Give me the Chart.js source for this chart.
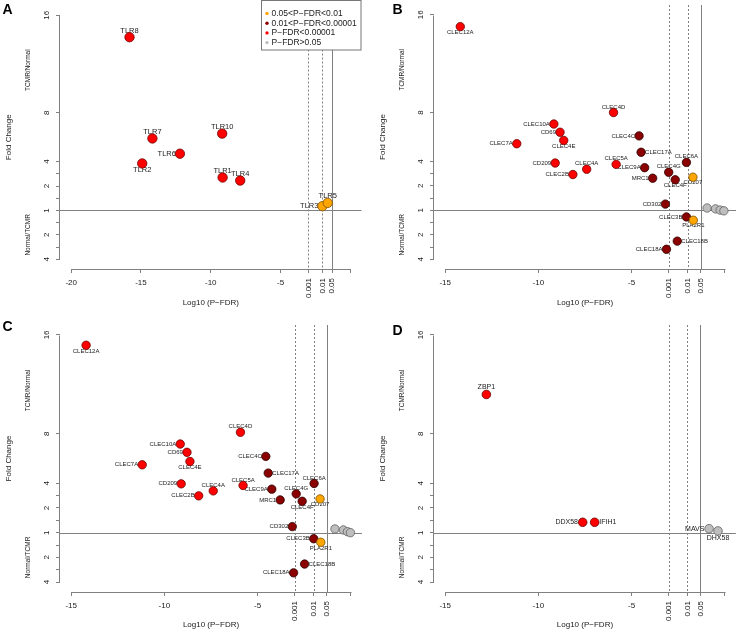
<!DOCTYPE html>
<html>
<head>
<meta charset="utf-8">
<script src="https://cdn.jsdelivr.net/npm/chart.js@4.4.1/dist/chart.umd.min.js"></script>
<style>
  body { margin: 0; background: #fff; overflow: hidden; width: 741px; height: 633px; position: relative; }
  canvas { position: absolute; }
</style>
</head>
<body>
<canvas id="panelA" width="367" height="316" style="left:0px;top:0px"></canvas>
<canvas id="panelB" width="367" height="316" style="left:374px;top:0px"></canvas>
<canvas id="panelC" width="367" height="317" style="left:0px;top:316px"></canvas>
<canvas id="panelD" width="367" height="317" style="left:374px;top:316px"></canvas>
<script>
// significance groups (legend order)
const legendLabels = ['0.05<P\u2212FDR<0.01', '0.01<P\u2212FDR<0.00001', 'P\u2212FDR<0.00001', 'P\u2212FDR>0.05'];
const groupColors = ['#FFA500', '#8B0000', '#FF0000', '#BEBEBE'];

// fold change axis: 0 is "1", positive side TCMR/Normal, negative side Normal/TCMR
const yTickValues = [16, 8, 4, 3, 2, 1, 0, -1, -2, -3, -4];
const yTickLabels = ['16', '8', '4', '', '2', '', '1', '', '2', '', '4'];

const pCutValues = [0.001, 0.01, 0.05];
const pCutLabels = ['0.001', '0.01', '0.05'];

// A - TLRs
const aGenes = ['TLR8', 'TLR7', 'TLR2', 'TLR6', 'TLR10', 'TLR1', 'TLR4', 'TLR3', 'TLR5'];
const aLogP = [-15.82, -14.18, -14.91, -12.21, -9.18, -9.15, -7.89, -2.0, -1.62];
const aFold = [14.2, 5.9, 3.85, 4.65, 6.3, 2.7, 2.45, 0.35, 0.62];
const aGroup = [2, 2, 2, 2, 2, 2, 2, 0, 0];
const aSide = ['above', 'above', 'below', 'left', 'above', 'above', 'above', 'left', 'above'];

// B - CLRs
const bGenes = ['CLEC12A', 'CLEC4D', 'CLEC10A', 'CD69', 'CLEC4E', 'CLEC7A', 'CD209', 'CLEC2B', 'CLEC4A', 'CLEC5A',
  'CLEC4C', 'CLEC17A', 'CLEC9A', 'MRC1', 'CLEC4G', 'CLEC4F', 'CLEC6A', 'CD207', 'CD302', 'CLEC3B', 'PLA2R1',
  'CLEC18B', 'CLEC18A', '', '', '', ''];
const bLogP = [-14.19, -5.97, -9.17, -8.84, -8.64, -11.16, -9.10, -8.15, -7.41, -5.83,
  -4.60, -4.49, -4.30, -3.87, -3.01, -2.66, -2.06, -1.71, -3.19, -2.06, -1.69,
  -2.55, -3.13, -0.95, -0.50, -0.25, -0.05];
const bFold = [15.03, 8.0, 7.06, 6.39, 5.72, 5.45, 3.87, 2.93, 3.36, 3.76,
  6.09, 4.75, 3.49, 2.63, 3.11, 2.50, 3.92, 2.71, 0.51, -0.54, -0.81,
  -2.52, -3.19, 0.19, 0.12, 0.02, -0.04];
const bGroup = [2, 2, 2, 2, 2, 2, 2, 2, 2, 2, 1, 1, 1, 1, 1, 1, 1, 0, 1, 1, 0, 1, 1, 3, 3, 3, 3];
const bSide = ['below', 'above', 'left', 'left', 'below', 'left', 'left', 'left', 'above', 'above',
  'left', 'right', 'left', 'left', 'above', 'below', 'above', 'below', 'left', 'left', 'below',
  'right', 'left', '', '', '', ''];

// C - CLRs
const cGenes = bGenes;
const cLogP = [-14.20, -5.92, -9.15, -8.79, -8.63, -11.19, -9.10, -8.16, -7.38, -5.78,
  -4.56, -4.43, -4.24, -3.79, -2.93, -2.61, -1.97, -1.65, -3.14, -1.99, -1.61,
  -2.48, -3.07, -0.85, -0.40, -0.18, -0.02];
const cFold = [15.16, 8.12, 7.17, 6.50, 5.76, 5.49, 3.95, 2.98, 3.38, 3.82,
  6.17, 4.82, 3.52, 2.65, 3.14, 2.54, 3.98, 2.73, 0.49, -0.49, -0.78,
  -2.54, -3.25, 0.30, 0.22, 0.08, 0.0];
const cGroup = bGroup;
const cSide = bSide;

// D - RLRs
const dGenes = ['ZBP1', 'DDX58', 'IFIH1', 'MAVS', 'DHX58'];
const dLogP = [-12.79, -7.62, -6.98, -0.84, -0.36];
const dFold = [11.18, 0.84, 0.84, 0.32, 0.14];
const dGroup = [2, 2, 2, 3, 3];
const dSide = ['above', 'left', 'right', 'left', 'below'];

const fontFamily = '"Liberation Sans", Arial, sans-serif';
const textColor = '#1a1a1a';
const lineGray = '#808080';
const groupBorders = ['#7a5000', '#2a0000', '#6a0000', '#606060'];
const drawOrder = [0, 1, 2, 3];

const xTicksFor = (xMin) => {
  const vals = [];
  for (let v = xMin; v <= -5; v += 5) vals.push(v);
  return vals.concat(pCutValues.map(p => Math.log10(p)), [0]);
};

const line = (ctx, x1, y1, x2, y2) => {
  ctx.beginPath();
  ctx.moveTo(x1, y1);
  ctx.lineTo(x2, y2);
  ctx.stroke();
};

const volcanoPlugin = {
  id: 'volcano',
  beforeDatasetsDraw(chart, args, opts) {
    const { ctx, chartArea: ca } = chart;
    const x = chart.scales.x;
    const y = chart.scales.y;
    ctx.save();
    ctx.strokeStyle = lineGray;
    ctx.lineWidth = 1;

    const y0 = Math.round(y.getPixelForValue(0)) + 0.5;
    line(ctx, ca.left, y0, ca.right, y0);

    pCutValues.forEach((p, i) => {
      const px = Math.round(x.getPixelForValue(Math.log10(p))) + 0.5;
      ctx.setLineDash(i < 2 ? [2, 2] : []);
      line(ctx, px, ca.top, px, ca.bottom);
    });
    ctx.setLineDash([]);

    // axis lines only between first and last tick
    const xt = xTicksFor(opts.xMin);
    const by = Math.round(ca.bottom) + 0.5;
    line(ctx, Math.round(x.getPixelForValue(xt[0])) + 0.5, by, Math.round(x.getPixelForValue(xt[xt.length - 1])) + 0.5, by);
    const lx = Math.round(ca.left) - 0.5;
    line(ctx, lx, Math.round(y.getPixelForValue(16)) + 0.5, lx, Math.round(y.getPixelForValue(-4)) + 0.5);

    // gene labels sit under the points
    ctx.font = opts.labelSize + 'px ' + fontFamily;
    ctx.fillStyle = textColor;
    chart.data.datasets.forEach((ds, di) => {
      const meta = chart.getDatasetMeta(di);
      ds.data.forEach((pt, j) => {
        if (!pt.gene) return;
        const el = meta.data[j];
        let tx = el.x;
        let ty = el.y;
        ctx.textAlign = 'center';
        ctx.textBaseline = 'middle';
        if (pt.side === 'above') ty -= opts.labelDy;
        else if (pt.side === 'below') ty += opts.labelDy;
        else if (pt.side === 'left') { tx -= opts.labelDx; ctx.textAlign = 'right'; }
        else { tx += opts.labelDx; ctx.textAlign = 'left'; }
        ctx.fillText(pt.gene, tx, ty);
      });
    });
    ctx.restore();
  },
  afterDraw(chart, args, opts) {
    const { ctx, chartArea: ca } = chart;
    const x = chart.scales.x;
    const y = chart.scales.y;
    ctx.save();
    ctx.fillStyle = textColor;

    // p-value cut-off labels, perpendicular to the axis
    ctx.font = '8px ' + fontFamily;
    ctx.textAlign = 'right';
    ctx.textBaseline = 'middle';
    pCutValues.forEach((p, i) => {
      ctx.save();
      ctx.translate(x.getPixelForValue(Math.log10(p)), ca.bottom + 9);
      ctx.rotate(-Math.PI / 2);
      ctx.fillText(pCutLabels[i], 0, 0);
      ctx.restore();
    });

    ctx.font = '6.5px ' + fontFamily;
    ctx.textAlign = 'center';
    [['TCMR/Normal', 11.5], ['Normal/TCMR', -2]].forEach(([txt, v]) => {
      ctx.save();
      ctx.translate(ca.left - 32, y.getPixelForValue(v));
      ctx.rotate(-Math.PI / 2);
      ctx.fillText(txt, 0, 0);
      ctx.restore();
    });

    ctx.font = 'bold 14px ' + fontFamily;
    ctx.textAlign = 'left';
    ctx.textBaseline = 'alphabetic';
    ctx.fillStyle = '#000';
    ctx.fillText(opts.letter, opts.letterX, opts.letterY);

    if (opts.legend) {
      const right = ca.right - 0.5;
      const left = right - 99.5;
      const top = 0.5;
      ctx.fillStyle = '#fff';
      ctx.fillRect(left, top, right - left, 49.5);
      ctx.strokeStyle = '#777';
      ctx.lineWidth = 1;
      ctx.strokeRect(left, top, right - left, 49.5);
      ctx.font = '8.5px ' + fontFamily;
      ctx.textBaseline = 'middle';
      legendLabels.forEach((lab, i) => {
        const ly = 13.5 + i * 9.7;
        ctx.fillStyle = groupColors[i];
        ctx.beginPath();
        ctx.arc(left + 5.5, ly, 1.7, 0, Math.PI * 2);
        ctx.fill();
        ctx.fillStyle = textColor;
        ctx.fillText(lab, left + 10, ly);
      });
    }
    ctx.restore();
  }
};

const makePanel = (canvasId, genes, logP, fold, group, side, geo) => {
  const datasets = [];
  for (let g = 0; g < groupColors.length; g++) {
    const pts = [];
    for (let i = 0; i < genes.length; i++) {
      if (group[i] === g) pts.push({ x: logP[i], y: fold[i], gene: genes[i], side: side[i] });
    }
    if (pts.length === 0) continue;
    datasets.push({
      label: legendLabels[g],
      data: pts,
      backgroundColor: groupColors[g],
      borderColor: groupBorders[g],
      borderWidth: 0.8,
      pointRadius: geo.radius,
      order: drawOrder[g]
    });
  }

  const xTicks = xTicksFor(geo.xMin);
  const xSpan = 0 - geo.xMin;
  const tickFont = { family: fontFamily, size: 8 };

  return new Chart(document.getElementById(canvasId), {
    type: 'scatter',
    data: { datasets: datasets },
    plugins: [volcanoPlugin],
    options: {
      responsive: false,
      animation: false,
      devicePixelRatio: 1,
      layout: { padding: { top: geo.padTop, right: 0, bottom: 0, left: 0 } },
      plugins: {
        legend: { display: false },
        tooltip: { enabled: false },
        volcano: geo
      },
      scales: {
        x: {
          type: 'linear',
          min: geo.xMin - 0.04 * xSpan,
          max: 0.04 * xSpan,
          afterBuildTicks: (s) => { s.ticks = xTicks.map(v => ({ value: v })); },
          afterFit: (s) => { s.height = geo.xAxisH; s.paddingLeft = 0; s.paddingRight = 0; },
          border: { display: false },
          grid: { drawOnChartArea: false, tickLength: 4, color: lineGray },
          ticks: {
            autoSkip: false, maxRotation: 0, minRotation: 0, padding: 5.3,
            font: tickFont, color: textColor,
            callback: (v) => (v <= -5 ? String(v) : '')
          },
          title: {
            display: true, text: 'Log10 (P\u2212FDR)', color: textColor,
            font: { family: fontFamily, size: 8 },
            padding: { top: 0, bottom: geo.titleBottom }
          }
        },
        y: {
          type: 'linear',
          min: -4.8,
          max: 16.8,
          afterBuildTicks: (s) => { s.ticks = yTickValues.map(v => ({ value: v })); },
          afterFit: (s) => { s.width = 60; s.paddingTop = 0; s.paddingBottom = 0; },
          border: { display: false },
          grid: { drawOnChartArea: false, tickLength: 4, color: lineGray },
          ticks: {
            autoSkip: false, minRotation: 90, maxRotation: 90, crossAlign: 'center', padding: 5,
            font: tickFont, color: textColor,
            callback: (v) => yTickLabels[yTickValues.indexOf(v)]
          },
          title: {
            display: true, text: 'Fold Change', color: textColor,
            font: { family: fontFamily, size: 8 },
            padding: { top: 3.9, bottom: 0 }
          }
        }
      }
    }
  });
};

const rowTop = { padTop: 2, xAxisH: 47, titleBottom: 8.2 };
const rowBottom = { padTop: 9, xAxisH: 41, titleBottom: 3.2 };

makePanel('panelA', aGenes, aLogP, aFold, aGroup, aSide,
  { ...rowTop, xMin: -20, radius: 4.7, labelSize: 7.5, labelDx: 4, labelDy: 6.7, letter: 'A', letterX: 2.5, letterY: 13.5, legend: true });
makePanel('panelB', bGenes, bLogP, bFold, bGroup, bSide,
  { ...rowTop, xMin: -15, radius: 4.2, labelSize: 6, labelDx: 4, labelDy: 5.6, letter: 'B', letterX: 18.5, letterY: 13.5, legend: false });
makePanel('panelC', cGenes, cLogP, cFold, cGroup, cSide,
  { ...rowBottom, xMin: -15, radius: 4.2, labelSize: 6, labelDx: 4, labelDy: 5.6, letter: 'C', letterX: 2.5, letterY: 15, legend: false });
makePanel('panelD', dGenes, dLogP, dFold, dGroup, dSide,
  { ...rowBottom, xMin: -15, radius: 4.3, labelSize: 7, labelDx: 4.7, labelDy: 7, letter: 'D', letterX: 18.5, letterY: 18.5, legend: false });
</script>
</body>
</html>
